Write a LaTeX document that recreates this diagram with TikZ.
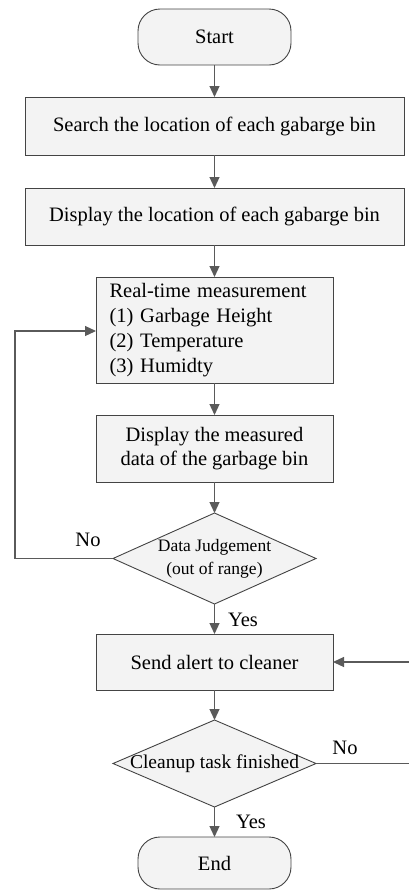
\documentclass[tikz,border=0pt]{standalone}
\usepackage{fontspec}
\setmainfont{Liberation Serif}
\usetikzlibrary{arrows.meta,shapes.geometric}
\definecolor{boxfill}{HTML}{F3F3F3}
\definecolor{edgecol}{HTML}{444444}
\definecolor{arrcol}{HTML}{5A5A5A}
\begin{document}
\begin{tikzpicture}[x=1pt,y=-1pt,
  every node/.style={inner sep=0pt, outer sep=0pt},
  proc/.style={draw=edgecol, line width=0.9pt, fill=boxfill, font=\fontsize{20.5}{24}\selectfont, align=center},
  term/.style={draw=edgecol, line width=0.9pt, fill=boxfill, rounded corners=22pt, minimum width=153pt, minimum height=56pt, font=\fontsize{20.5}{24}\selectfont},
  decis/.style={draw=edgecol, line width=0.9pt, fill=boxfill, diamond, aspect=2.2, minimum width=203pt, minimum height=91pt, align=center},
  conn/.style={draw=arrcol, line width=1.2pt, -{Triangle[length=11pt,width=10pt]}},
  plain/.style={draw=arrcol, line width=1.2pt},
  lbl/.style={font=\fontsize{20.5}{24}\selectfont}
]
\useasboundingbox (0,0) rectangle (409,892);
\node[term] (start) at (214.5,37) {Start};
\node[proc, minimum width=379pt, minimum height=58pt] (search) at (214.5,126) {Search the location of each gabarge bin};
\node[proc, minimum width=379pt, minimum height=57pt] (disp) at (214.5,216.5) {Display the location of each gabarge bin};
\node[proc, minimum width=237pt, minimum height=106pt, align=left, text width=210pt, font=\fontsize{20.5}{25}\selectfont] (meas) at (214.5,330) {Real-time measurement\\(1) Garbage Height\\(2) Temperature\\(3) Humidty};
\node[proc, minimum width=237pt, minimum height=67pt] (mdata) at (214.5,448.5) {Display the measured\\data of the garbage bin};
\node[decis, font=\fontsize{17.5}{23}\selectfont] (judge) at (214.5,558.5) {Data Judgement\\(out of range)};
\node[proc, minimum width=237pt, minimum height=56pt] (alert) at (214.5,662) {Send alert to cleaner};
\node[decis, minimum height=87pt, font=\fontsize{19.5}{22}\selectfont] (clean) at (214.5,763.5) {\makebox[0pt]{Cleanup task finished}};
\node[term, minimum height=52pt] (end) at (214.5,863) {End};

\coordinate (lp1) at (15,558.5);
\coordinate (lp2) at (15,331);
\coordinate (rin) at (409,662);
\coordinate (rout) at (409,763.5);

\draw[conn] (start) -- (search);
\draw[conn] (search) -- (disp);
\draw[conn] (disp) -- (meas);
\draw[conn] (meas) -- (mdata);
\draw[conn] (mdata) -- (judge);
\draw[conn] (judge) -- (alert);
\draw[conn] (alert) -- (clean);
\draw[conn] (clean) -- (end);
\draw[conn] (judge.west) -- (lp1) -- (lp2) -- (meas.west |- lp2);
\draw[conn] (rin) -- (alert.east);
\draw[plain] (clean.east) -- (rout);

\node[lbl] (no1) at (88,540) {No};
\node[lbl] (yes1) at (243,620) {Yes};
\node[lbl] (no2) at (345,748) {No};
\node[lbl] (yes2) at (251,822) {Yes};
\end{tikzpicture}
\end{document}
